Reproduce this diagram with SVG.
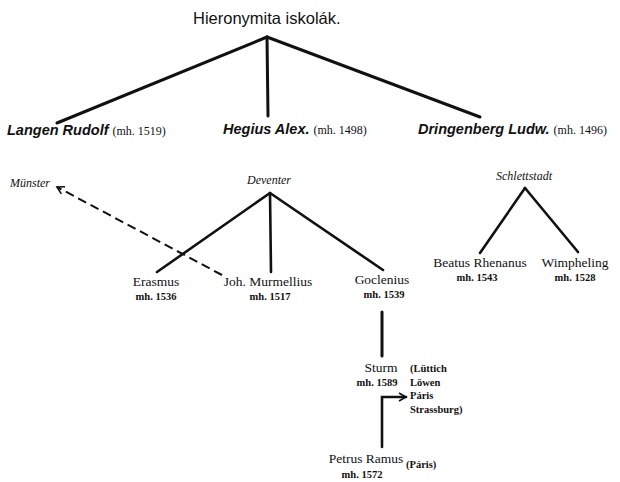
<svg xmlns="http://www.w3.org/2000/svg" width="620" height="482" viewBox="0 0 620 482">
<defs>
<style>
.ln{stroke:#111;stroke-width:3;fill:none;stroke-linecap:round}
.ln2{stroke:#111;stroke-width:2.6;fill:none;stroke-linecap:round}
.title{font-family:"Liberation Sans",Arial,sans-serif;font-size:16.5px;fill:#111}
.name{font-family:"Liberation Sans",Arial,sans-serif;font-size:14.5px;font-weight:bold;font-style:italic;fill:#111}
.sr{font-family:"Liberation Serif","Times New Roman",serif;fill:#111}
.s11{font-size:12px}
.s12{font-size:13.5px}
.s10{font-size:10.5px;font-weight:bold}
.it{font-style:italic;font-size:12px}
</style>
<marker id="open" markerWidth="10" markerHeight="10" refX="8" refY="5" orient="auto" markerUnits="userSpaceOnUse">
<path d="M1,1 L8,5 L1,9" fill="none" stroke="#111" stroke-width="1.6"/>
</marker>
</defs>
<rect width="620" height="482" fill="#fff"/>
<g id="connectors">
<path class="ln" d="M267,37 L57,123"/>
<path class="ln" d="M267,37 L268,116"/>
<path class="ln" d="M267,37 L480,117"/>
<path class="ln2" d="M270,193 L157,272"/>
<path class="ln2" d="M270,193 L271,272"/>
<path class="ln2" d="M270,193 L383,270"/>
<path class="ln2" d="M525,188 L480,253"/>
<path class="ln2" d="M525,188 L578,252"/>
<path class="ln" d="M382,312 L382,356"/>
<path class="ln2" d="M382,447 L382,397 L406,397" marker-end="url(#open)"/>
<path d="M222,275 L57,187" stroke="#111" stroke-width="2" stroke-dasharray="9,5" fill="none" marker-end="url(#open)"/>
</g>
<g id="root"><text class="title" x="193" y="24">Hieronymita iskolák.</text></g>
<g id="langen"><text x="7" y="135"><tspan class="name">Langen Rudolf</tspan><tspan class="sr s11" dx="4">(mh. 1519)</tspan></text></g>
<g id="hegius"><text x="223" y="134"><tspan class="name">Hegius Alex.</tspan><tspan class="sr s11" dx="4">(mh. 1498)</tspan></text></g>
<g id="dringenberg"><text x="418" y="134"><tspan class="name">Dringenberg Ludw.</tspan><tspan class="sr s11" dx="4">(mh. 1496)</tspan></text></g>
<g id="munster"><text class="sr it" x="10" y="187">Münster</text></g>
<g id="deventer"><text class="sr it" x="269" y="184" text-anchor="middle">Deventer</text></g>
<g id="schlettstadt"><text class="sr it" x="524" y="180" text-anchor="middle">Schlettstadt</text></g>
<g id="erasmus"><text class="sr s12" x="156" y="286" text-anchor="middle">Erasmus</text><text class="sr s10" x="156" y="300" text-anchor="middle">mh. 1536</text></g>
<g id="murmellius"><text class="sr s12" x="268" y="286" text-anchor="middle">Joh. Murmellius</text><text class="sr s10" x="270" y="300" text-anchor="middle">mh. 1517</text></g>
<g id="goclenius"><text class="sr s12" x="382" y="284" text-anchor="middle">Goclenius</text><text class="sr s10" x="384" y="298" text-anchor="middle">mh. 1539</text></g>
<g id="beatus"><text class="sr s12" x="480" y="267" text-anchor="middle">Beatus Rhenanus</text><text class="sr s10" x="477" y="281" text-anchor="middle">mh. 1543</text></g>
<g id="wimpheling"><text class="sr s12" x="575" y="267" text-anchor="middle">Wimpheling</text><text class="sr s10" x="575" y="281" text-anchor="middle">mh. 1528</text></g>
<g id="sturm"><text class="sr s12" x="381" y="372" text-anchor="middle">Sturm</text><text class="sr s10" x="377" y="386" text-anchor="middle">mh. 1589</text>
<text class="sr s10" x="410" y="372">(Lüttich</text><text class="sr s10" x="410" y="386">Löwen</text><text class="sr s10" x="410" y="399">Páris</text><text class="sr s10" x="410" y="413">Strassburg)</text></g>
<g id="ramus"><text class="sr s12" x="366" y="463" text-anchor="middle">Petrus Ramus</text><text class="sr s10" x="406" y="468">(Páris)</text><text class="sr s10" x="362" y="478" text-anchor="middle">mh. 1572</text></g>
</svg>
